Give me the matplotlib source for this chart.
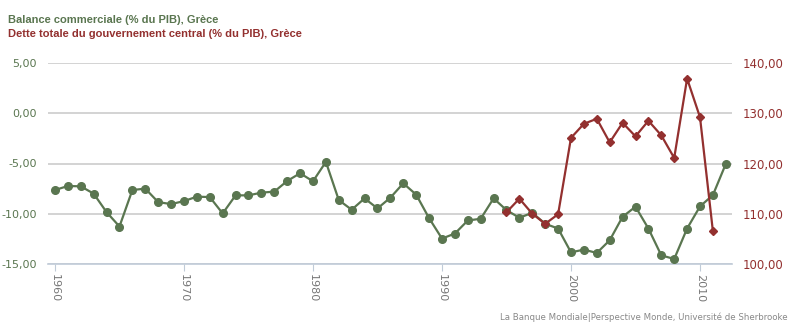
import matplotlib
matplotlib.use("Agg")
import matplotlib.pyplot as plt

# data
years = list(range(1960, 2013))
balance = [-7.64, -7.24, -7.27, -8.0, -9.84, -11.27, -7.64, -7.5, -8.84, -9.04,
           -8.74, -8.3, -8.34, -9.97, -8.17, -8.17, -7.9, -7.8, -6.74, -5.97,
           -6.77, -4.84, -8.64, -9.6, -8.47, -9.47, -8.4, -6.97, -8.1, -10.44,
           -12.47, -11.97, -10.67, -10.5, -8.47, -9.64, -10.4, -9.9, -11.0, -11.47,
           -13.84, -13.57, -13.9, -12.64, -10.3, -9.3, -11.47, -14.14, -14.5, -11.47,
           -9.27, -8.14, -5.04]

debt_years = list(range(1995, 2012))
debt = [110.3, 113.0, 110.0, 108.0, 109.9, 125.1, 127.9, 128.9, 124.2, 128.1,
        125.4, 128.5, 125.6, 121.1, 136.9, 129.2, 106.5]

GREEN = "#5a7650"
RED = "#93302f"

fig = plt.figure(figsize=(8.09, 3.31), dpi=100)
ax = fig.add_axes([48 / 809, 1 - 264 / 331, 684 / 809, 201 / 331])
ax2 = ax.twinx()

ax.plot(years, balance, color=GREEN, lw=1.6, marker="o", ms=5.5, zorder=3)
ax2.plot(debt_years, debt, color=RED, lw=1.6, marker="D", ms=4, zorder=3)

ax.set_xlim(1959.46, 2012.48)
ax.set_ylim(-15, 5)
ax2.set_ylim(100, 140)
ax.set_yticks([-15, -10, -5, 0, 5])
ax.set_yticklabels(["-15,00", "-10,00", "-5,00", "0,00", "5,00"])
ax2.set_yticks([100, 110, 120, 130, 140])
ax2.set_yticklabels(["100,00", "110,00", "120,00", "130,00", "140,00"])
ax.set_xticks(range(1960, 2011, 10))
ax.set_xticklabels([str(y) for y in range(1960, 2011, 10)], rotation=270)

ax.grid(axis="y", color="#cccccc", lw=1.2)
ax.set_axisbelow(True)
for a in (ax, ax2):
    for s in a.spines.values():
        s.set_visible(False)
ax.spines["bottom"].set_visible(True)
ax.spines["bottom"].set_color("#c0cbd8")
ax.spines["bottom"].set_linewidth(1.2)

ax.tick_params(axis="y", length=0, pad=8, labelsize=8, labelcolor=GREEN)
ax2.tick_params(axis="y", length=0, pad=8, labelsize=8.5, labelcolor=RED)
ax.tick_params(axis="x", length=5, color="#c0cbd8", pad=2, labelsize=8, labelcolor="#777777")

fig.text(8 / 809, 1 - 20 / 331, "Balance commerciale (% du PIB), Grèce", color=GREEN,
         fontsize=8, fontweight="bold", family="Liberation Sans", va="center")
fig.text(8 / 809, 1 - 34 / 331, "Dette totale du gouvernement central (% du PIB), Grèce", color=RED,
         fontsize=8, fontweight="bold", family="Liberation Sans", va="center")
fig.text(788 / 809, 1 - 317 / 331, "La Banque Mondiale|Perspective Monde, Université de Sherbrooke",
         color="#888888", fontsize=6.2, ha="right", va="center")

fig.savefig("out.png", dpi=100)
